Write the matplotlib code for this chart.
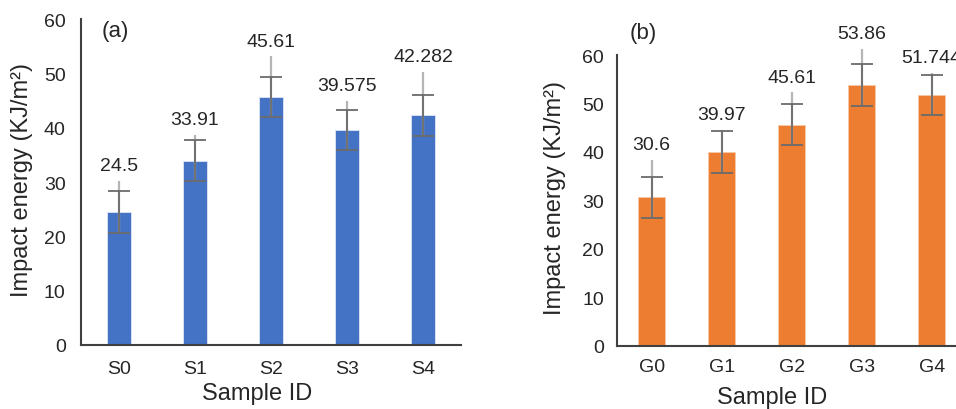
import matplotlib.pyplot as plt
import numpy as np

plt.rcParams['font.family'] = ['Liberation Sans', 'DejaVu Sans']

# Painel (a)
samples_a = ["S0", "S1", "S2", "S3", "S4"]
energy_a = [24.5, 33.91, 45.61, 39.575, 42.282]
err_a = [3.8, 3.75, 3.7, 3.75, 3.75]
upper_a = [30.2, 38.7, 53.1, 45.0, 50.3]   # topo da linha clara

# Painel (b)
samples_b = ["G0", "G1", "G2", "G3", "G4"]
energy_b = [30.6, 39.97, 45.61, 53.86, 51.744]
err_b = [4.3, 4.25, 4.25, 4.3, 4.2]
upper_b = [38.3, 44.5, 52.3, 61.2, 56.3]

txt = "#262626"


def painel(ax, samples, energy, err, upper, cor, borda, largura, ypad, xpad,
           ylab_xy, xlab_xy):
    x = np.arange(len(samples))
    ax.bar(x, energy, largura, color=cor, edgecolor=borda, linewidth=0.6, zorder=2)
    lo = np.array(energy) - np.array(err)
    ax.vlines(x, lo, upper, color="#b5b5b5", linewidth=1.6, zorder=3, clip_on=False)
    ax.errorbar(x, energy, yerr=err, fmt="none", ecolor="#6b6b6b", elinewidth=1.3,
                capsize=8, capthick=1.3, zorder=4)
    for xi, u, v in zip(x, upper, energy):
        ax.annotate(str(v), (xi, u), xytext=(0, 11), textcoords="offset points",
                    ha="center", va="center", fontsize=14, color=txt, annotation_clip=False)
    ax.set_xlim(-0.5, len(samples) - 0.5)
    ax.set_ylim(0, 60)
    ax.set_yticks(range(0, 61, 10))
    ax.set_xticks(x)
    ax.set_xticklabels(samples)
    for s in ["top", "right"]:
        ax.spines[s].set_visible(False)
    for s in ["left", "bottom"]:
        ax.spines[s].set_color("#404040")
        ax.spines[s].set_linewidth(1.5)
    ax.tick_params(axis="y", length=0, pad=ypad, labelsize=14, labelcolor=txt)
    ax.tick_params(axis="x", length=0, pad=xpad, labelsize=14, labelcolor=txt)
    ax.text(ylab_xy[0], ylab_xy[1], "Impact energy (KJ/m²)", transform=ax.transAxes,
            rotation=90, ha="center", va="center", fontsize=17, color=txt)
    ax.text(xlab_xy[0], xlab_xy[1], "Sample ID", transform=ax.transAxes,
            ha="center", va="center", fontsize=17, color=txt)


fig = plt.figure(figsize=(9.56, 4.1), dpi=100)
ax1 = fig.add_axes([0.0847, 0.1561, 0.3975, 0.7951])
ax2 = fig.add_axes([0.6451, 0.1544, 0.3661, 0.7090])

painel(ax1, samples_a, energy_a, err_a, upper_a, "#4472C4", "#dfe6f3", 0.31, 11, 11,
       (-0.155, 0.509), (0.463, -0.147))
painel(ax2, samples_b, energy_b, err_b, upper_b, "#ED7D31", "#f8c9a8", 0.39, 9, 8.5,
       (-0.176, 0.513), (0.444, -0.176))

fig.text(115 / 956, 1 - 32 / 410, "(a)", ha="center", va="center", fontsize=16, color=txt)
fig.text(643 / 956, 1 - 33 / 410, "(b)", ha="center", va="center", fontsize=16, color=txt)

fig.savefig("out.png", dpi=100)
